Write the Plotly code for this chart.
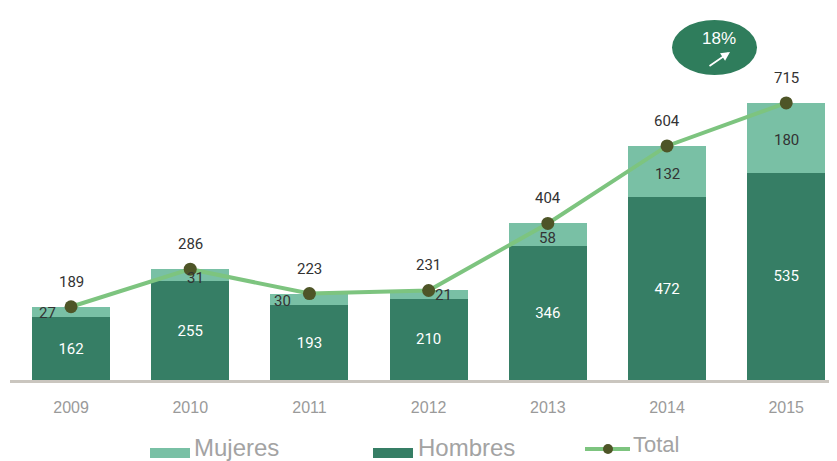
import plotly.graph_objects as go

years = ["2009", "2010", "2011", "2012", "2013", "2014", "2015"]
hombres = [162, 255, 193, 210, 346, 472, 535]
mujeres = [27, 31, 30, 21, 58, 132, 180]
total = [189, 286, 223, 231, 404, 604, 715]
growth_label = "18%"

c_h = "#367E65"
c_m = "#79C0A5"
c_line = "#7DC47F"
c_dot = "#4E5527"
num_font = "Roboto, Arial, sans-serif"
leg_font = "Liberation Sans, Arial, sans-serif"

# page body margin offset (pixels) and figure geometry
OFF = 8
W, H = 837 - OFF, 461 - OFF
L, R, T, B = 2, 0, 12, 81
PW, PH = W - L - R, H - T - B


def px(x):
    """screen x pixel -> paper x"""
    return (x - OFF - L) / PW


def py(y):
    """screen y pixel -> paper y"""
    return (H - B - (y - OFF)) / PH


fig = go.Figure()
fig.add_trace(go.Bar(
    x=years, y=hombres, name="Hombres", marker=dict(color=c_h, line=dict(width=0)),
    text=[str(v) for v in hombres], textposition="inside", insidetextanchor="middle",
    textfont=dict(color="white", size=15, family=num_font), width=0.654, showlegend=False,
))
fig.add_trace(go.Bar(
    x=years, y=mujeres, name="Mujeres", marker=dict(color=c_m, line=dict(width=0)),
    width=0.654, showlegend=False,
))
fig.add_trace(go.Scatter(
    x=years, y=total, name="Total", mode="lines+markers",
    line=dict(color=c_line, width=4), marker=dict(color=c_dot, size=13),
    showlegend=False,
))

# Total labels
for i, t in enumerate(total):
    fig.add_annotation(x=i, y=t, text=str(t), showarrow=False, yshift=25,
                       font=dict(color="#333333", size=15, family=num_font))

# Mujeres labels
shifts = [(-24, -1), (5, -3), (-27, -2), (15, 0), (0, -3), (0, -2), (0, -2)]
for i, (h, m) in enumerate(zip(hombres, mujeres)):
    dx, dy = shifts[i]
    fig.add_annotation(x=i, y=h + m / 2, text=str(m), showarrow=False,
                       xshift=dx, yshift=dy,
                       font=dict(color="#333333", size=15, family=num_font))

# Growth badge
fig.add_shape(type="circle", xref="paper", yref="paper",
              x0=px(672), x1=px(757), y0=py(75), y1=py(20),
              fillcolor="#2F7D5C", line=dict(width=0), layer="above")
fig.add_annotation(xref="paper", yref="paper", x=px(719), y=py(38),
                   xanchor="center", yanchor="middle",
                   text=growth_label, showarrow=False,
                   font=dict(color="white", size=17, family=leg_font))
fig.add_annotation(xref="paper", yref="paper", x=px(730), y=py(52),
                   ax=-22, ay=15, axref="pixel", ayref="pixel", text="",
                   showarrow=True, arrowhead=2, arrowsize=1, arrowwidth=1.8,
                   arrowcolor="white")

# Manual legend
fig.add_shape(type="rect", xref="paper", yref="paper",
              x0=px(150), x1=px(190), y0=py(458), y1=py(448),
              fillcolor=c_m, line=dict(width=0))
fig.add_shape(type="rect", xref="paper", yref="paper",
              x0=px(373), x1=px(413), y0=py(458), y1=py(448),
              fillcolor=c_h, line=dict(width=0))
fig.add_shape(type="line", xref="paper", yref="paper",
              x0=px(585), x1=px(630), y0=py(449), y1=py(449),
              line=dict(color=c_line, width=4))
fig.add_shape(type="circle", xref="paper", yref="paper",
              x0=px(603), x1=px(613), y0=py(454), y1=py(444),
              fillcolor=c_dot, line=dict(width=0))
for label, x0, yc, size in [("Mujeres", 192, 447, 24), ("Hombres", 416, 447, 24),
                             ("Total", 631, 444, 22)]:
    fig.add_annotation(xref="paper", yref="paper", x=px(x0), y=py(yc), text=label,
                       showarrow=False, xanchor="left", yanchor="middle",
                       font=dict(color="#A3A3A3", size=size, family=leg_font))

fig.update_layout(
    barmode="stack", width=W, height=H,
    margin=dict(l=L, r=R, t=T, b=B),
    plot_bgcolor="white", paper_bgcolor="white",
    font=dict(family=num_font),
    showlegend=False,
    xaxis=dict(type="category", range=[-0.512, 6.426], showgrid=False, ticks="",
               showline=True, linecolor="#CAC6BF", linewidth=2.5, automargin=False,
               ticklabelstandoff=11,
               tickfont=dict(color="#9A9A9A", size=16, family=leg_font)),
    yaxis=dict(range=[0, 929], visible=False, showgrid=False, automargin=False),
)
fig.write_html("out.html")
